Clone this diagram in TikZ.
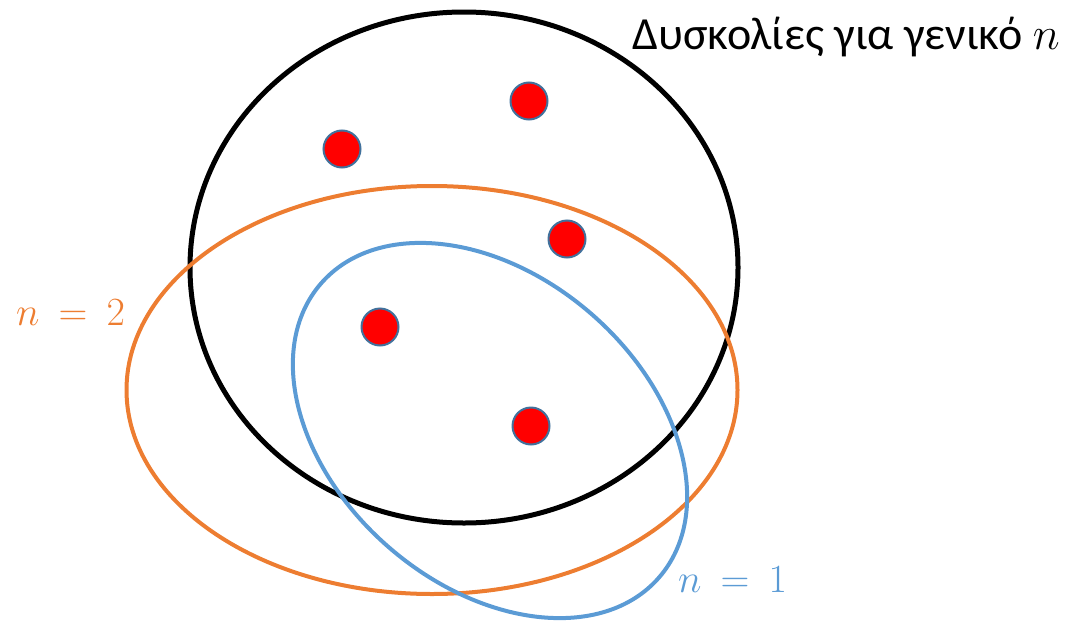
\documentclass[tikz,border=0pt]{standalone}
\usepackage{fix-cm}
\usepackage{fontspec}
\setmainfont{Carlito}
\definecolor{myorange}{HTML}{ED7D31}
\definecolor{myblue}{HTML}{5B9BD5}
\definecolor{dotedge}{HTML}{41719C}
\tikzset{
  dotnode/.style={circle, fill=red, draw=dotedge, line width=2pt, minimum size=37pt, inner sep=0pt},
  setline/.style={line width=4.5pt},
  mathlabel/.style={anchor=base west, inner sep=0pt, font=\fontsize{40}{44}\selectfont},
}
\newcommand{\eqlabel}[1]{$n\;\hspace{8pt}{=}\;\hspace{8pt}#1$}
\begin{document}
\begin{tikzpicture}[x=1pt,y=1pt]
\useasboundingbox (0,0) rectangle (1081,-621);
% black set
\draw[setline, black, line width=5pt] (464,-267.5) ellipse [x radius=274, y radius=255.5];
% orange set n=2
\draw[setline, myorange, line width=4pt] (432,-390) ellipse [x radius=305.5, y radius=204];
% blue set n=1
\draw[setline, myblue, line width=4pt, rotate around={-41:(490,-430.5)}] (490,-430.5) ellipse [x radius=224, y radius=154.5];
% points
\node[dotnode] (p1) at (342,-149) {};
\node[dotnode] (p2) at (529,-101) {};
\node[dotnode] (p3) at (567,-239) {};
\node[dotnode] (p4) at (380,-327) {};
\node[dotnode] (p5) at (531,-426) {};
% labels
\node[anchor=base west, inner sep=0pt, font=\fontsize{46}{52}\selectfont] (title) at (632,-49) {Δυσκολίες για γενικό $n$};
\node[mathlabel, text=myorange] (l2) at (16,-325) {\eqlabel{2}};
\node[mathlabel, text=myblue] (l1) at (678,-592) {\eqlabel{1}};
\end{tikzpicture}
\end{document}
